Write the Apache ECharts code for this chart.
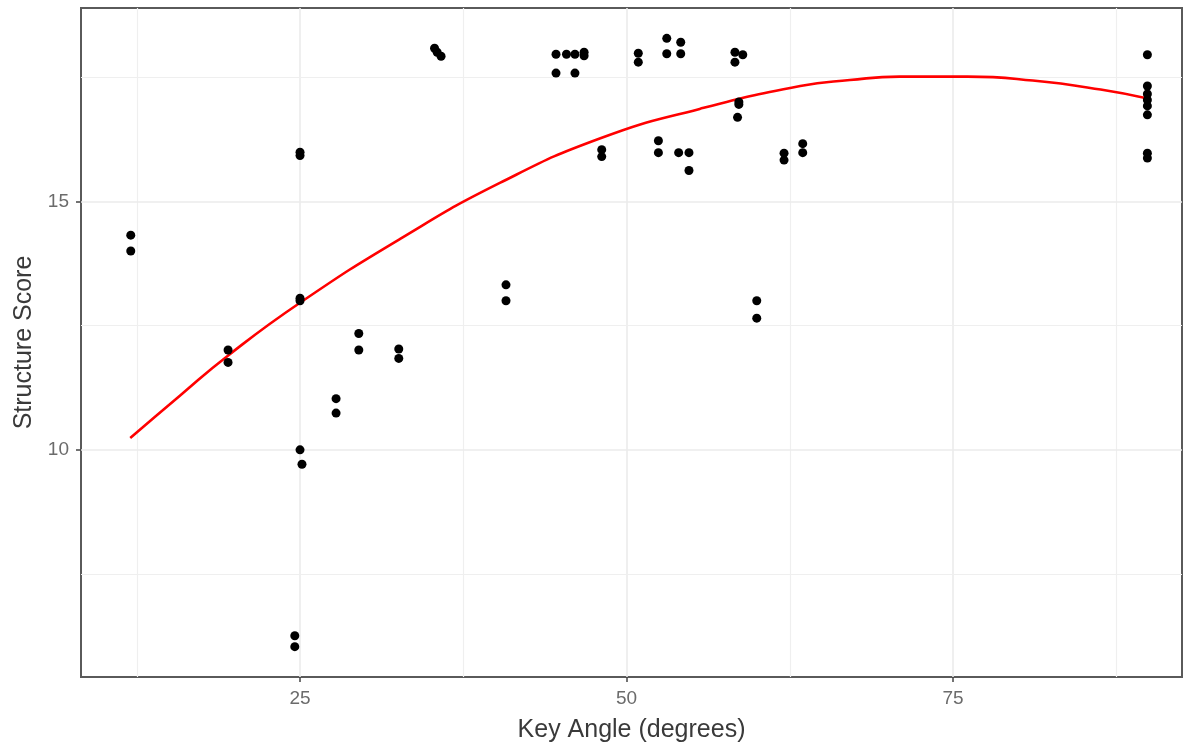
<!DOCTYPE html>
<html>
<head>
<meta charset="utf-8">
<script src="https://cdn.jsdelivr.net/npm/echarts@6/dist/echarts.min.js"></script>
<style>
html,body{margin:0;padding:0;background:#fff;}
#chart{width:1185px;height:746px;}
</style>
</head>
<body>
<div id="chart"></div>
<script>
// Scatter points: key angle (x) and structure score (y)
const ptX = [12.04, 12.04, 19.49, 19.49, 24.6, 24.6, 25.0, 25.0, 25.0, 25.0, 25.0, 25.15,
  27.76, 27.76, 29.5, 29.5, 32.56, 32.56, 35.3, 35.5, 35.8, 40.77, 40.77,
  44.6, 44.6, 45.4, 46.05, 46.05, 46.75, 46.75, 48.1, 48.1, 50.9, 50.9,
  52.44, 52.44, 53.08, 53.08, 53.99, 54.15, 54.15, 54.78, 54.78,
  58.3, 58.3, 58.9, 58.6, 58.6, 58.5, 59.97, 59.97, 62.06, 62.06, 63.49, 63.49,
  89.88, 89.88, 89.88, 89.88, 89.88, 89.88, 89.88, 89.88];
const ptY = [14.32, 14.0, 12.01, 11.76, 6.26, 6.04, 15.99, 15.92, 13.05, 13.0, 10.0, 9.71,
  11.03, 10.74, 12.34, 12.01, 12.03, 11.84, 18.08, 18.0, 17.92, 13.32, 13.0,
  17.96, 17.58, 17.96, 17.96, 17.58, 18.0, 17.93, 16.04, 15.9, 17.98, 17.8,
  16.22, 15.98, 18.28, 17.97, 15.98, 18.2, 17.97, 15.98, 15.62,
  18.0, 17.8, 17.95, 17.0, 16.95, 16.69, 13.0, 12.65, 15.97, 15.83, 16.16, 15.98,
  17.95, 17.32, 17.16, 17.04, 16.92, 16.74, 15.97, 15.87];

// Fitted curve
const curveX = [12.0, 15.8, 19.5, 25.0, 32.7, 40.3, 48.0, 55.6, 63.3, 67.1, 70.9, 76.1, 81.1, 86.3, 89.9];
const curveY = [10.24, 11.09, 11.9, 12.96, 14.25, 15.37, 16.27, 16.86, 17.32, 17.44, 17.51, 17.51, 17.43, 17.25, 17.07];

// Axis ticks
const xTicks = [25, 50, 75];
const xMinorTicks = [12.5, 37.5, 62.5, 87.5];
const yTicks = [10, 15];
const yMinorTicks = [7.5, 12.5, 17.5];

const FONT = '"Liberation Sans", Arial, sans-serif';

const chart = echarts.init(document.getElementById('chart'));

const gridLines = [];
xTicks.forEach(v => gridLines.push({xAxis: v, lineStyle: {color: '#ebebeb', width: 1.6, type: 'solid'}}));
xMinorTicks.forEach(v => gridLines.push({xAxis: v, lineStyle: {color: '#efefef', width: 1.2, type: 'solid'}}));
yTicks.forEach(v => gridLines.push({yAxis: v, lineStyle: {color: '#ebebeb', width: 1.6, type: 'solid'}}));
yMinorTicks.forEach(v => gridLines.push({yAxis: v, lineStyle: {color: '#efefef', width: 1.2, type: 'solid'}}));

chart.setOption({
  animation: false,
  backgroundColor: '#ffffff',
  grid: {
    left: 81, right: 3, top: 8, bottom: 69,
    outerBoundsMode: 'none',
    containLabel: false,
    show: true, borderColor: '#5a5a5a', borderWidth: 2, backgroundColor: 'transparent'
  },
  xAxis: {
    type: 'value',
    min: 8.23, max: 92.53,
    name: 'Key Angle (degrees)',
    nameLocation: 'middle',
    nameGap: 41,
    nameTextStyle: {fontFamily: FONT, fontSize: 25, color: '#3a3a3a'},
    axisLine: {show: false},
    axisTick: {show: true, customValues: xTicks, length: 5, lineStyle: {color: '#444', width: 1.5}},
    axisLabel: {customValues: xTicks, fontFamily: FONT, fontSize: 19, color: '#6b6b6b', margin: 12},
    splitLine: {show: false}
  },
  yAxis: {
    type: 'value',
    min: 5.43, max: 18.89,
    name: 'Structure Score',
    nameLocation: 'middle',
    nameGap: 39,
    nameTextStyle: {fontFamily: FONT, fontSize: 25, color: '#3a3a3a'},
    axisLine: {show: false},
    axisTick: {show: true, customValues: yTicks, length: 5, lineStyle: {color: '#444', width: 1.5}},
    axisLabel: {customValues: yTicks, fontFamily: FONT, fontSize: 19, color: '#6b6b6b', margin: 12},
    splitLine: {show: false}
  },
  series: [
    {
      type: 'scatter',
      data: [],
      silent: true,
      markLine: {
        silent: true,
        symbol: ['none', 'none'],
        label: {show: false},
        z: 0,
        data: gridLines
      }
    },
    {
      type: 'line',
      data: curveX.map((x, i) => [x, curveY[i]]),
      smooth: true,
      showSymbol: false,
      lineStyle: {color: '#ff0000', width: 2.6},
      z: 3
    },
    {
      type: 'scatter',
      data: ptX.map((x, i) => [x, ptY[i]]),
      symbol: 'circle',
      symbolSize: 9,
      itemStyle: {color: '#000000', opacity: 1},
      z: 4
    }
  ]
});
</script>
</body>
</html>
